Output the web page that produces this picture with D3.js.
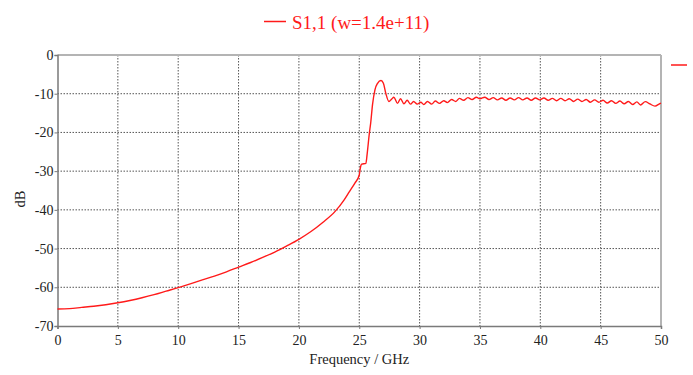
<!DOCTYPE html>
<html><head><meta charset="utf-8">
<script src="https://cdn.jsdelivr.net/npm/d3@7/dist/d3.min.js"></script>
<style>body{margin:0;background:#fff;} svg{display:block;}</style>
</head><body>
<svg id="c" width="693" height="375"></svg>
<script>
const seriesName = "S1,1 (w=1.4e+11)";
const xLabel = "Frequency / GHz";
const yLabel = "dB";
const xTicks = [0,5,10,15,20,25,30,35,40,45,50];
const yTicks = [0,-10,-20,-30,-40,-50,-60,-70];
const freq = [0,1,2,3,4,5,6,7,8,9,10,11,12,13,14,15,16,17,18,19,20,21,22,23,23.75,24.2,24.64,25.0,25.1,25.2,25.55,25.66,25.83,25.95,26.1,26.3,26.52,26.8,27.0,27.2,27.46,27.68,27.87,28.17,28.42,28.7,28.97,29.25,29.5,29.8,30.1,30.35,30.65,31.0,31.3,31.65,32.0,32.3,32.65,33.0,33.3,33.65,34.0,34.35,34.7,35.0,35.4,35.75,36.1,36.45,36.8,37.15,37.5,37.85,38.2,38.55,38.9,39.25,39.6,39.95,40.3,40.65,41.0,41.35,41.7,42.05,42.4,42.75,43.1,43.45,43.8,44.15,44.5,44.85,45.2,45.55,45.9,46.25,46.6,46.95,47.3,47.65,48.0,48.3,48.7,49.08,49.5,49.9,50];
const s11 = [-65.6,-65.5,-65.2,-64.9,-64.5,-64.0,-63.4,-62.7,-61.9,-61.0,-60.1,-59.1,-58.1,-57.1,-56.0,-54.8,-53.6,-52.3,-50.9,-49.3,-47.6,-45.6,-43.2,-40.4,-37.4,-35.2,-33.1,-31.0,-29.0,-28.2,-28.0,-25.4,-20.4,-17.5,-12.8,-9.0,-7.3,-6.6,-7.3,-9.9,-12.0,-11.4,-10.9,-12.5,-11.3,-12.6,-11.7,-12.7,-12.0,-12.7,-12.2,-12.8,-12.0,-12.7,-11.9,-12.5,-11.8,-12.3,-11.5,-12.0,-11.2,-11.7,-11.0,-11.5,-10.9,-11.3,-10.9,-11.5,-11.0,-11.6,-11.1,-11.7,-11.1,-11.6,-11.0,-11.6,-11.1,-11.7,-11.1,-11.6,-11.1,-11.7,-11.2,-11.8,-11.2,-11.8,-11.3,-12.0,-11.4,-12.0,-11.5,-12.2,-11.6,-12.2,-11.7,-12.4,-11.8,-12.5,-11.9,-12.6,-12.0,-12.8,-12.1,-12.9,-12.05,-12.65,-13.2,-12.55,-12.4];

const svg = d3.select("#c");
const L = 57.5, R = 661, T = 55, B = 326;
const x = d3.scaleLinear().domain([0,50]).range([L,R]);
const y = d3.scaleLinear().domain([-70,0]).range([B,T]);
const serif = "Liberation Serif";
const red = "#ff1a1a";

// grid
svg.append("g").selectAll("line").data(xTicks.slice(1,-1)).join("line")
  .attr("x1", d=>x(d)).attr("x2", d=>x(d)).attr("y1", T).attr("y2", B)
  .attr("stroke","#555").attr("stroke-width",1).attr("stroke-dasharray","1.5,1.5");
svg.append("g").selectAll("line").data(yTicks.slice(1,-1)).join("line")
  .attr("y1", d=>y(d)).attr("y2", d=>y(d)).attr("x1", L).attr("x2", R)
  .attr("stroke","#555").attr("stroke-width",1).attr("stroke-dasharray","1.5,1.5");

// frame top/right
svg.append("line").attr("x1",L).attr("x2",R).attr("y1",T).attr("y2",T).attr("stroke","#b4b4b4").attr("stroke-width",2);
svg.append("line").attr("x1",R).attr("x2",R).attr("y1",T).attr("y2",B).attr("stroke","#b4b4b4").attr("stroke-width",2);

// axes
const xAxis = d3.axisBottom(x).tickValues(xTicks).tickSize(3).tickFormat(d3.format("d"));
const gx = svg.append("g").attr("transform",`translate(0,${B})`).call(xAxis).attr("font-family",serif);
gx.select(".domain").attr("stroke","#7a7a7a").attr("stroke-width",1.5);
gx.selectAll(".tick line").attr("stroke","#7a7a7a");
gx.selectAll("text").attr("font-family",serif).attr("font-size",14).attr("fill","#222").attr("dy","0.95em");

const yAxis = d3.axisLeft(y).tickValues(yTicks).tickSize(3).tickFormat(d=>d===0?"0":"-"+Math.abs(d));
const gy = svg.append("g").attr("transform",`translate(${L},0)`).call(yAxis).attr("font-family",serif);
gy.select(".domain").attr("stroke","#7a7a7a").attr("stroke-width",1.5);
gy.selectAll(".tick line").attr("stroke","#7a7a7a");
gy.selectAll("text").attr("font-family",serif).attr("font-size",14).attr("fill","#222").attr("x",-4);

// axis titles
svg.append("text").attr("x",(L+R)/2).attr("y",364).attr("text-anchor","middle")
  .attr("font-family",serif).attr("font-size",14.5).attr("fill","#222").text(xLabel);
svg.append("text").attr("transform","translate(25,199) rotate(-90)").attr("text-anchor","middle")
  .attr("font-family",serif).attr("font-size",14.5).attr("fill","#222").text(yLabel);

// curve
const data = freq.map((f,i)=>[f,s11[i]]);
svg.append("path").datum(data)
  .attr("d", d3.line().x(d=>x(d[0])).y(d=>y(d[1])).curve(d3.curveMonotoneX))
  .attr("fill","none").attr("stroke",red).attr("stroke-width",1.4);

// legend
svg.append("line").attr("x1",264).attr("x2",286).attr("y1",21.5).attr("y2",21.5).attr("stroke",red).attr("stroke-width",1.5);
svg.append("text").attr("x",292).attr("y",28.5).attr("font-family",serif).attr("font-size",19).attr("fill",red).text(seriesName);
// cut-off legend marker at right
svg.append("line").attr("x1",671).attr("x2",687).attr("y1",65).attr("y2",65).attr("stroke",red).attr("stroke-width",1.5);
</script>
</body></html>
